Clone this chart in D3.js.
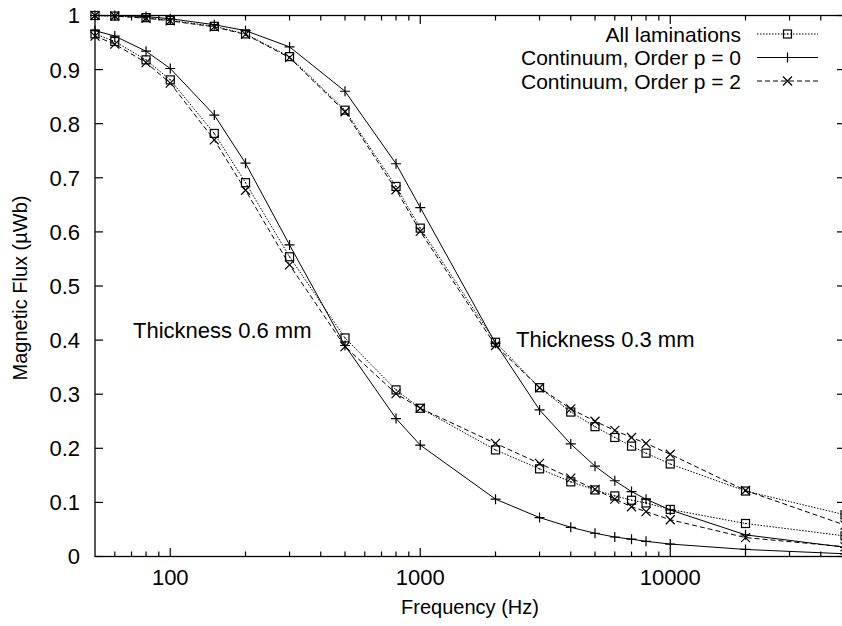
<!DOCTYPE html>
<html><head><meta charset="utf-8">
<script src="https://cdn.jsdelivr.net/npm/d3@7"></script>
<style>html,body{margin:0;padding:0;background:#fff;} svg{display:block;} text{font-family:"Liberation Sans",Arial,Helvetica,sans-serif;fill:#000;}</style>
</head><body>
<svg id="chart" width="842" height="626"></svg>
<script>
const freqs = [50,60,80,100,150,200,300,500,800,1000,2000,3000,4000,5000,6000,7000,8000,10000,20000,50000];
// Thickness 0.3 mm
const lam03 = [1.0,0.999,0.996,0.991,0.980,0.966,0.924,0.825,0.684,0.607,0.396,0.312,0.267,0.240,0.220,0.204,0.191,0.171,0.121,0.077];
const p0_03 = [1.0,1.0,0.998,0.994,0.983,0.972,0.942,0.860,0.726,0.645,0.394,0.271,0.208,0.167,0.140,0.120,0.106,0.086,0.040,0.017];
const p2_03 = [1.0,0.999,0.995,0.990,0.979,0.965,0.922,0.822,0.678,0.601,0.390,0.312,0.273,0.250,0.233,0.220,0.209,0.189,0.122,0.058];
// Thickness 0.6 mm
const lam06 = [0.966,0.952,0.918,0.881,0.782,0.691,0.554,0.404,0.308,0.274,0.197,0.162,0.138,0.123,0.112,0.104,0.099,0.087,0.061,0.038];
const p0_06 = [0.972,0.962,0.934,0.902,0.816,0.727,0.576,0.390,0.255,0.206,0.106,0.072,0.054,0.043,0.036,0.032,0.028,0.023,0.013,0.005];
const p2_06 = [0.962,0.947,0.913,0.875,0.770,0.677,0.539,0.388,0.301,0.274,0.209,0.172,0.145,0.124,0.106,0.092,0.083,0.068,0.035,0.018];

const legendLabels = ["All laminations","Continuum, Order p = 0","Continuum, Order p = 2"];
const yTicks = [0,0.1,0.2,0.3,0.4,0.5,0.6,0.7,0.8,0.9,1];
const yTickLabels = ["0","0.1","0.2","0.3","0.4","0.5","0.6","0.7","0.8","0.9","1"];
const xMajor = [100,1000,10000];
const xMajorLabels = ["100","1000","10000"];
const xMinor = [60,70,80,90,200,300,400,500,600,700,800,900,2000,3000,4000,5000,6000,7000,8000,9000,20000,30000,40000];
const annotations = [{text:"Thickness 0.6 mm"},{text:"Thickness 0.3 mm"}];

const svg = d3.select("#chart");
const L = 95, R = 845, T = 15.5, B = 556.5;
const x = d3.scaleLog().domain([50,50000]).range([L,R]);
const y = d3.scaleLinear().domain([0,1]).range([B,T]);

const styles = {
  lam:{dash:"1.5,1.5", marker:"square"},
  p0:{dash:null, marker:"plus"},
  p2:{dash:"5,3", marker:"cross"}
};
const series = [
  {vals:lam03, s:"lam"},{vals:p0_03, s:"p0"},{vals:p2_03, s:"p2"},
  {vals:lam06, s:"lam"},{vals:p0_06, s:"p0"},{vals:p2_06, s:"p2"}
];

function drawMarker(g, type, cx, cy){
  if(type==="square"){
    g.append("rect").attr("x",cx-4).attr("y",cy-4).attr("width",8).attr("height",8)
      .attr("fill","none").attr("stroke","#000").attr("stroke-width",1.2);
    g.append("rect").attr("x",cx-0.6).attr("y",cy-0.6).attr("width",1.2).attr("height",1.2).attr("fill","#000");
  } else if(type==="plus"){
    g.append("path").attr("d",`M${cx-5},${cy}H${cx+5}M${cx},${cy-5}V${cy+5}`)
      .attr("stroke","#000").attr("stroke-width",1.2).attr("fill","none");
  } else {
    g.append("path").attr("d",`M${cx-4.5},${cy-4.5}L${cx+4.5},${cy+4.5}M${cx-4.5},${cy+4.5}L${cx+4.5},${cy-4.5}`)
      .attr("stroke","#000").attr("stroke-width",1.2).attr("fill","none");
  }
}

const line = d3.line().x(d=>x(d[0])).y(d=>y(d[1]));
const plot = svg.append("g");
series.forEach(se=>{
  const st = styles[se.s];
  const pts = freqs.map((f,i)=>[f,se.vals[i]]);
  plot.append("path").attr("d",line(pts)).attr("fill","none").attr("stroke","#000")
    .attr("stroke-width",1).attr("stroke-dasharray",st.dash);
  pts.forEach(p=>drawMarker(plot, st.marker, x(p[0]), y(p[1])));
});

// frame
svg.append("rect").attr("x",L).attr("y",T).attr("width",R-L).attr("height",B-T)
  .attr("fill","none").attr("stroke","#000").attr("stroke-width",1.3);

const ax = svg.append("g").attr("stroke","#000").attr("stroke-width",1.2);
yTicks.forEach(v=>{
  ax.append("line").attr("x1",L).attr("x2",L+8).attr("y1",y(v)).attr("y2",y(v));
  ax.append("line").attr("x1",R).attr("x2",R-8).attr("y1",y(v)).attr("y2",y(v));
});
xMajor.forEach(v=>{
  ax.append("line").attr("x1",x(v)).attr("x2",x(v)).attr("y1",B).attr("y2",B-8.5);
  ax.append("line").attr("x1",x(v)).attr("x2",x(v)).attr("y1",T).attr("y2",T+8.5);
});
xMinor.forEach(v=>{
  ax.append("line").attr("x1",x(v)).attr("x2",x(v)).attr("y1",B).attr("y2",B-5);
  ax.append("line").attr("x1",x(v)).attr("x2",x(v)).attr("y1",T).attr("y2",T+5);
});

const fs = 22;
yTicks.forEach((v,i)=>{
  svg.append("text").attr("x",80).attr("y",y(v)).attr("dy","0.36em")
    .attr("text-anchor","end").attr("font-size",fs).text(yTickLabels[i]);
});
xMajor.forEach((v,i)=>{
  svg.append("text").attr("x",x(v)).attr("y",585).attr("text-anchor","middle")
    .attr("font-size",fs).text(xMajorLabels[i]);
});
svg.append("text").attr("x",470).attr("y",614).attr("text-anchor","middle")
  .attr("font-size",20).text("Frequency (Hz)");
svg.append("text").attr("transform","translate(27,288) rotate(-90)").attr("text-anchor","middle")
  .attr("font-size",20).text("Magnetic Flux (\u00b5Wb)");

svg.append("text").attr("x",133).attr("y",338).attr("font-size",fs).text(annotations[0].text);
svg.append("text").attr("x",516).attr("y",347).attr("font-size",fs).text(annotations[1].text);

// legend
const legKeys = ["lam","p0","p2"];
const legY = [34,57.5,81];
legKeys.forEach((k,i)=>{
  const st = styles[k];
  svg.append("text").attr("x",741).attr("y",legY[i]).attr("dy","0.36em")
    .attr("text-anchor","end").attr("font-size",21).text(legendLabels[i]);
  svg.append("line").attr("x1",757).attr("x2",818).attr("y1",legY[i]).attr("y2",legY[i])
    .attr("stroke","#000").attr("stroke-width",1).attr("stroke-dasharray",st.dash);
  drawMarker(svg, st.marker, 787.5, legY[i]);
});
</script>
</body></html>
